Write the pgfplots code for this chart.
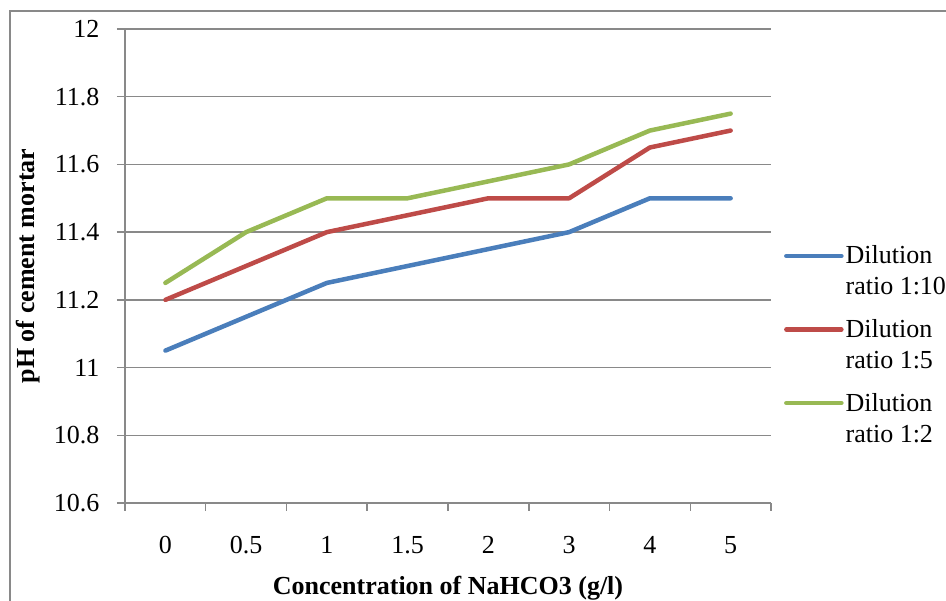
\documentclass[border=0pt]{standalone}
\usepackage{pgfplots}
\pgfplotsset{compat=1.18}
\usepackage{fontspec}
\setmainfont{Liberation Serif}
\definecolor{cblue}{HTML}{4A7EBB}
\definecolor{cred}{HTML}{BE4B48}
\definecolor{cgreen}{HTML}{98B954}
\definecolor{cgrid}{HTML}{898989}
\begin{document}
\begin{tikzpicture}[font=\fontsize{26}{31}\selectfont]
\useasboundingbox (0pt,0pt) rectangle (946pt,601pt);
\draw[color=cgrid, line width=2pt] (10pt,-20pt) -- (10pt,590pt) -- (980pt,590pt);
\begin{axis}[
  at={(125pt,98pt)}, anchor=south west,
  scale only axis, width=646pt, height=474pt,
  xmin=-0.5, xmax=7.5, ymin=10.6, ymax=12,
  axis x line*=bottom, axis y line*=left,
  axis line style={color=cgrid, line width=1.5pt},
  xtick={0,1,2,3,4,5,6,7},
  xticklabels={0,0.5,1,1.5,2,3,4,5},
  minor xtick={-0.5,0.5,1.5,2.5,3.5,4.5,5.5,6.5,7.5},
  ytick={10.6,10.8,11,11.2,11.4,11.6,11.8,12},
  yticklabels={10.6,10.8,11,11.2,11.4,11.6,11.8,12},
  tick align=outside,
  major tick length=8pt, minor tick length=8pt,
  major x tick style={draw=none},
  minor x tick style={color=cgrid, line width=1.5pt},
  major y tick style={color=cgrid, line width=1.5pt},
  ymajorgrids,
  major grid style={color=cgrid, line width=1.5pt},
  xticklabel style={yshift=-22pt},
  yticklabel style={anchor=east, xshift=-14pt},
  xlabel={\textbf{Concentration of NaHCO3 (g/l)}},
  ylabel={\textbf{pH of cement mortar}},
  xlabel style={at={(axis description cs:0.5,-0.18)}, anchor=center},
  ylabel style={at={(axis description cs:-0.150,0.5)}, anchor=center, rotate=0},
  legend style={at={(axis description cs:1.020,0.547)}, anchor=north west, draw=none, fill=none,
    cells={anchor=base west}, row sep=50pt, inner sep=0pt},
  legend image code/.code={\draw[#1,line cap=round] (0pt,8pt) -- (55pt,8pt);},
  every axis plot/.append style={line width=4.5pt, line join=round, line cap=round, no marks},
]
\addplot[cblue] coordinates {(0,11.05) (1,11.15) (2,11.25) (3,11.3) (4,11.35) (5,11.4) (6,11.5) (7,11.5)};
\addlegendentry{\parbox[t]{110pt}{Dilution\\ratio 1:10}}
\addplot[cred] coordinates {(0,11.2) (1,11.3) (2,11.4) (3,11.45) (4,11.5) (5,11.5) (6,11.65) (7,11.7)};
\addlegendentry{\parbox[t]{110pt}{Dilution\\ratio 1:5}}
\addplot[cgreen] coordinates {(0,11.25) (1,11.4) (2,11.5) (3,11.5) (4,11.55) (5,11.6) (6,11.7) (7,11.75)};
\addlegendentry{\parbox[t]{110pt}{Dilution\\ratio 1:2}}
\end{axis}
\end{tikzpicture}
\end{document}
